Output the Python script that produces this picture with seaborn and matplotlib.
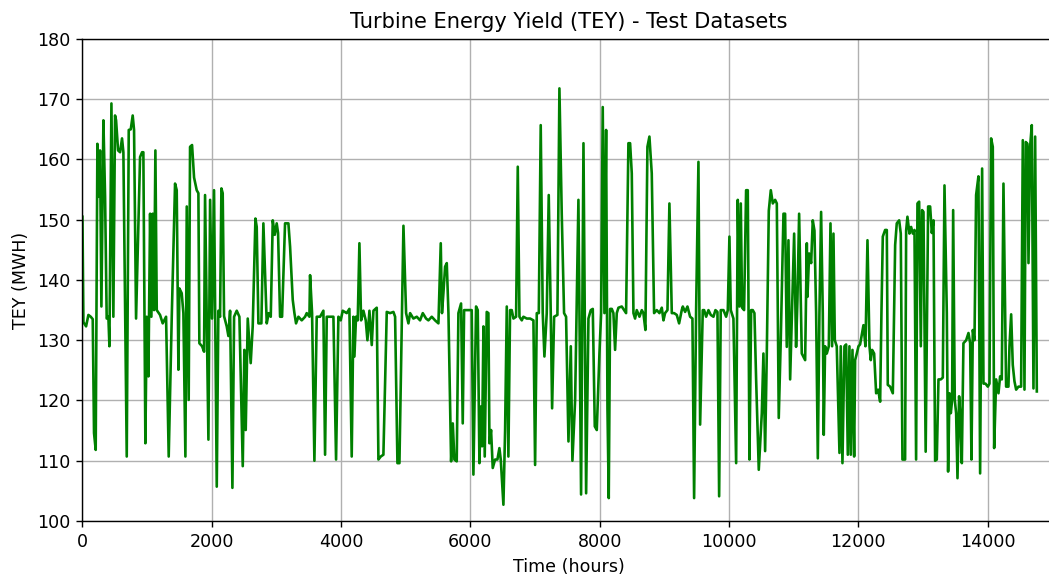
import matplotlib
matplotlib.use("Agg")
import matplotlib.pyplot as plt
import seaborn as sns
import pandas as pd

# Elapsed operating time (hours) and turbine energy yield (MWH) for the test set
hours = [
    0, 15, 56, 92, 128, 159, 179, 205, 231, 252, 272, 293, 324, 350, 375, 401, 417, 448,
    478, 504, 520, 551, 582, 612, 633, 685, 716, 747, 777, 798, 829, 891, 922, 942, 973,
    994, 1020, 1046, 1066, 1087, 1107, 1128, 1149, 1200, 1241, 1293, 1334, 1381, 1432,
    1458, 1484, 1499, 1535, 1561, 1592, 1613, 1643, 1664, 1695, 1726, 1767, 1793, 1808,
    1850, 1881, 1896, 1948, 1974, 2004, 2035, 2077, 2102, 2128, 2149, 2169, 2190, 2231,
    2257, 2283, 2319, 2345, 2386, 2427, 2479, 2504, 2525, 2556, 2602, 2633, 2675, 2695,
    2721, 2767, 2798, 2850, 2881, 2912, 2943, 2974, 3004, 3025, 3056, 3087, 3133, 3185,
    3211, 3252, 3278, 3303, 3340, 3391, 3443, 3468, 3510, 3520, 3551, 3587, 3623, 3675,
    3726, 3752, 3778, 3855, 3881, 3922, 3958, 3994, 4025, 4087, 4128, 4164, 4190, 4206,
    4231, 4257, 4283, 4309, 4345, 4381, 4407, 4438, 4474, 4500, 4551, 4577, 4613, 4654,
    4706, 4757, 4809, 4835, 4871, 4902, 4964, 5005, 5041, 5067, 5118, 5170, 5221, 5263,
    5314, 5350, 5402, 5453, 5505, 5541, 5560, 5582, 5608, 5634, 5660, 5701, 5727, 5752,
    5788, 5814, 5855, 5881, 5902, 5943, 5969, 6020, 6046, 6087, 6113, 6139, 6160, 6180,
    6201, 6221, 6252, 6278, 6294, 6319, 6345, 6381, 6417, 6448, 6469, 6510, 6536, 6562,
    6587, 6613, 6639, 6665, 6706, 6732, 6758, 6794, 6819, 6871, 6923, 6974, 7000, 7026,
    7057, 7087, 7118, 7144, 7180, 7211, 7242, 7263, 7294, 7345, 7376, 7412, 7448, 7479,
    7516, 7552, 7577, 7619, 7670, 7711, 7748, 7789, 7825, 7861, 7892, 7923, 7954, 7995,
    8021, 8046, 8072, 8098, 8119, 8139, 8160, 8186, 8211, 8237, 8263, 8289, 8340, 8376,
    8407, 8443, 8469, 8495, 8521, 8546, 8572, 8614, 8650, 8675, 8706, 8737, 8768, 8804,
    8840, 8882, 8923, 8959, 8985, 9010, 9047, 9077, 9114, 9150, 9191, 9227, 9268, 9284,
    9320, 9356, 9397, 9433, 9459, 9490, 9526, 9552, 9593, 9614, 9645, 9681, 9717, 9758,
    9789, 9820, 9846, 9871, 9913, 9954, 9980, 10005, 10026, 10067, 10109, 10134, 10160,
    10181, 10201, 10232, 10263, 10289, 10315, 10341, 10366, 10392, 10418, 10459, 10506,
    10531, 10557, 10583, 10614, 10645, 10676, 10712, 10738, 10768, 10799, 10841, 10866,
    10892, 10918, 10944, 10975, 11006, 11036, 11057, 11083, 11124, 11176, 11202, 11212,
    11238, 11269, 11294, 11320, 11346, 11372, 11397, 11423, 11449, 11464, 11485, 11511,
    11542, 11568, 11593, 11614, 11635, 11665, 11707, 11727, 11753, 11784, 11810, 11836,
    11861, 11882, 11908, 11934, 11949, 11975, 12001, 12026, 12057, 12078, 12109, 12140,
    12171, 12191, 12212, 12243, 12274, 12305, 12336, 12356, 12377, 12413, 12439, 12454,
    12490, 12532, 12568, 12593, 12630, 12655, 12681, 12722, 12738, 12758, 12789, 12815,
    12841, 12867, 12892, 12913, 12939, 12965, 12985, 13006, 13040, 13078, 13109, 13135,
    13161, 13186, 13212, 13238, 13274, 13305, 13331, 13367, 13387, 13408, 13429, 13449,
    13465, 13490, 13511, 13532, 13557, 13573, 13599, 13624, 13666, 13702, 13728, 13748,
    13769, 13795, 13820, 13856, 13882, 13913, 13934, 13965, 14001, 14027, 14052, 14078,
    14099, 14130, 14166, 14191, 14217, 14243, 14284, 14320, 14336, 14362, 14387, 14413,
    14439, 14475, 14516, 14542, 14568, 14588, 14614, 14630, 14655, 14681, 14707, 14733,
    14759,
]

tey = [
    150.5, 133.0, 132.3, 134.2, 133.9, 133.5, 114.6, 111.8, 162.6, 153.8, 161.5, 135.6, 166.5, 153.8, 133.6, 133.9, 129.0, 169.3,
    133.9, 167.3, 166.5, 161.5, 161.2, 163.5, 161.2, 110.7, 164.9, 165.0, 167.3, 164.9, 133.6, 160.4, 161.2, 161.2, 112.9,
    133.9, 124.0, 151.0, 133.9, 151.0, 135.0, 161.5, 135.0, 134.2, 132.8, 133.9, 110.7, 133.9, 156.0,
    154.9, 125.1, 138.6, 137.8, 134.5, 110.7, 152.2, 120.1, 162.1, 162.4, 157.0, 154.9, 154.4, 129.5,
    129.0, 128.1, 154.1, 113.5, 153.3, 133.6, 154.9, 105.7, 134.9, 133.9, 155.2, 154.4, 134.0, 132.3,
    130.7, 134.9, 105.5, 133.9, 134.9, 133.9, 109.1, 128.4, 115.1, 133.6, 126.2, 132.3, 150.2, 148.8,
    132.8, 132.8, 149.4, 132.8, 134.5, 133.9, 149.9, 147.5, 149.4, 147.8, 133.9, 133.9, 149.4, 149.4,
    145.5, 136.7, 134.5, 132.8, 133.9, 133.3, 133.9, 134.5, 133.9, 140.8, 134.5, 110.0, 133.9, 133.9,
    134.9, 111.0, 133.9, 133.9, 133.9, 110.2, 133.9, 133.3, 134.9, 134.5, 135.2, 110.7, 133.9, 127.3,
    133.9, 133.3, 146.1, 133.3, 134.9, 133.3, 130.0, 134.9, 129.2, 134.9, 135.4, 110.2, 110.7, 111.0,
    134.7, 134.5, 134.7, 133.9, 109.6, 109.6, 149.0, 134.5, 132.8, 134.5, 133.6, 133.9, 133.3, 134.5,
    133.6, 133.3, 133.9, 133.3, 132.8, 146.1, 134.5, 137.8, 142.2, 142.8, 134.5, 109.9, 116.2, 110.2,
    109.9, 134.5, 136.1, 116.2, 135.0, 135.0, 135.0, 135.0, 107.7, 135.6, 135.0, 109.6, 119.0, 112.4,
    132.3, 110.7, 134.7, 134.5, 112.9, 115.1, 108.8, 110.2, 110.2, 112.1, 110.2, 102.7, 115.0, 135.6,
    110.7, 135.0, 135.0, 133.6, 133.9, 158.8, 133.9, 133.3, 133.9, 133.6, 133.6, 133.3, 109.3, 134.5,
    134.5, 165.7, 134.5, 127.3, 134.5, 154.1, 134.5, 118.7, 133.9, 134.2, 171.8, 151.0, 134.5, 133.9,
    113.2, 129.0, 110.0, 120.1, 153.3, 104.4, 162.7, 104.6, 133.6, 135.0, 135.2, 115.7, 115.1, 127.8,
    134.5, 168.7, 134.5, 164.9, 118.7, 103.8, 135.2, 135.2, 134.5, 128.4, 134.5, 135.4, 135.6, 135.0,
    134.5, 162.7, 162.7, 157.7, 134.5, 133.6, 135.0, 133.9, 135.0, 134.5, 131.7, 162.1, 163.8, 157.7,
    134.5, 135.0, 134.5, 135.4, 133.3, 134.5, 135.0, 152.7, 134.5, 134.5, 134.2, 132.8, 135.0, 135.6,
    134.7, 135.6, 133.9, 133.6, 103.8, 135.0, 159.6, 116.0, 135.0, 135.0, 133.9, 135.0, 134.2, 133.9,
    135.0, 134.7, 104.1, 135.0, 135.0, 133.9, 135.0, 147.2, 135.0, 133.6, 109.6, 153.3, 135.6,
    152.7, 135.4, 135.0, 154.9, 154.9, 110.2, 135.0, 135.0, 134.5, 123.5, 108.5, 117.9,
    127.8, 111.6, 127.8, 151.5, 154.9, 152.7, 153.3, 152.7, 117.1, 130.0, 151.0, 151.0,
    128.9, 146.6, 123.5, 135.6, 147.7, 128.9, 136.7, 151.0, 127.8, 126.7, 146.1, 137.2,
    144.4, 142.8, 149.9, 148.2, 134.5, 110.4, 134.5, 151.3, 134.5, 114.3, 129.0, 127.8,
    129.0, 149.4, 129.0, 147.7, 130.0, 129.0, 111.3, 129.0, 109.6, 129.0, 129.3, 111.0,
    129.0, 111.0, 128.4, 110.7, 126.7, 127.8, 129.0, 129.3, 131.2, 132.5, 129.0, 146.6,
    129.0, 126.7, 128.4, 127.8, 121.2, 121.8, 119.8, 134.5, 147.2, 148.3, 148.3, 122.6,
    122.3, 121.2, 145.8, 149.4, 149.9, 147.7, 110.2, 110.2, 148.2, 150.5, 147.7, 148.8,
    147.7, 148.3, 110.2, 152.7, 153.0, 129.0, 151.6, 151.3, 111.5, 152.2, 152.2, 147.8,
    149.9, 110.0, 110.2, 123.5, 123.5, 123.8, 155.7, 134.5, 108.2, 121.2, 117.9, 120.1,
    151.6, 120.1, 117.9, 107.1, 120.7, 117.9, 109.6, 129.5, 130.0, 131.2, 129.5, 110.2,
    131.7, 130.0, 154.1, 157.2, 107.9, 158.5, 122.8, 122.8, 122.3, 122.8, 163.5, 162.1,
    112.1, 123.5, 121.2, 124.0, 123.5, 156.0, 122.3, 122.3, 129.0, 134.3, 125.9, 123.2,
    121.8, 122.3, 122.3, 163.2, 121.8, 162.9, 162.6, 142.8, 162.1, 165.7, 122.0, 163.8,
    121.5,
]

x_ticks = [0, 2000, 4000, 6000, 8000, 10000, 12000, 14000]
y_ticks = [100, 110, 120, 130, 140, 150, 160, 170, 180]

df = pd.DataFrame({"Time (hours)": hours, "TEY (MWH)": tey})

DPI = 126
fig = plt.figure(figsize=(1049 / DPI, 578 / DPI), dpi=DPI)
ax = fig.add_axes([0.0786, 0.0986, 0.9265, 0.834])

sns.lineplot(data=df, x="Time (hours)", y="TEY (MWH)", ax=ax,
             color="green", linewidth=1.5, estimator=None, sort=False)

ax.set_xlim(0, 15030)
ax.set_ylim(100, 180)
ax.set_xticks(x_ticks)
ax.set_yticks(y_ticks)
ax.grid(True)
ax.set_title("Turbine Energy Yield (TEY) - Test Datasets", fontsize=12)
ax.set_xlabel("Time (hours)")
ax.set_ylabel("TEY (MWH)")

fig.savefig("out.png", dpi=DPI)
